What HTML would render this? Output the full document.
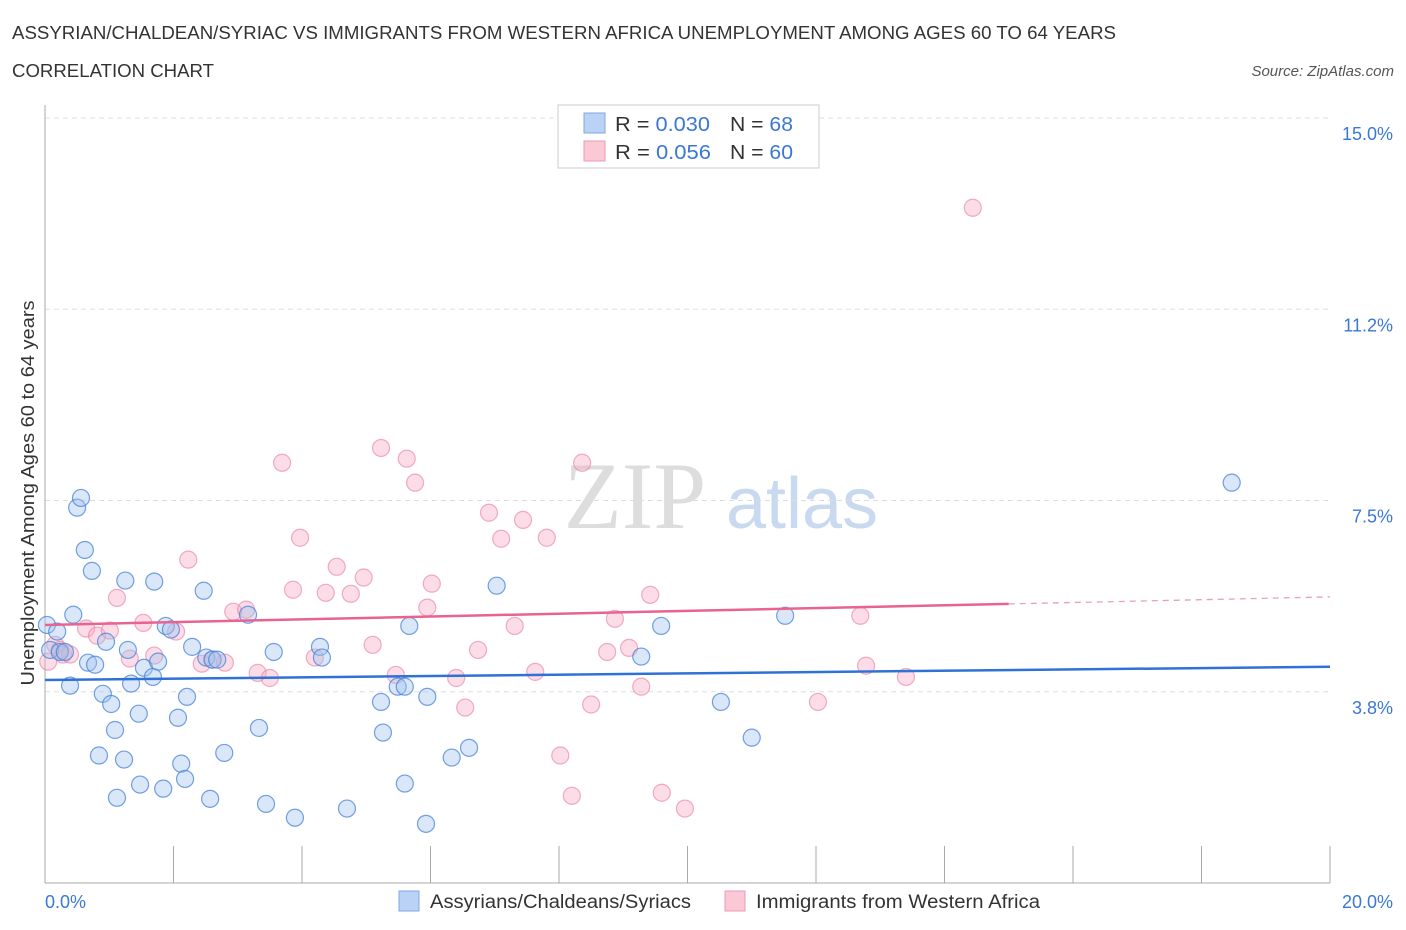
<!DOCTYPE html>
<html><head><meta charset="utf-8"><style>
body{margin:0;background:#fff;font-family:"Liberation Sans",sans-serif;}
#wrap{position:relative;width:1406px;height:930px;overflow:hidden;}
</style></head><body>
<div id="wrap">
<svg id="chart" width="1406" height="930">
<text x="12" y="39" font-size="18" fill="#333" textLength="1104" lengthAdjust="spacingAndGlyphs">ASSYRIAN/CHALDEAN/SYRIAC VS IMMIGRANTS FROM WESTERN AFRICA UNEMPLOYMENT AMONG AGES 60 TO 64 YEARS</text>
<text x="12" y="77" font-size="18" fill="#333" textLength="202" lengthAdjust="spacingAndGlyphs">CORRELATION CHART</text>
<text x="1394" y="76" font-size="15" fill="#555" font-style="italic" text-anchor="end">Source: ZipAtlas.com</text>
<text x="635" y="528" font-size="95" fill="#ddd" font-family="Liberation Serif,serif" text-anchor="middle">ZIP</text>
<text x="802" y="528" font-size="72" fill="#c8d9f0" text-anchor="middle">atlas</text>
<text transform="translate(34,493) rotate(-90)" font-size="18" fill="#333" text-anchor="middle" textLength="385" lengthAdjust="spacingAndGlyphs">Unemployment Among Ages 60 to 64 years</text>
<g id="grid"></g><g id="marks"></g>
<g>
<rect x="558" y="105" width="261" height="63" fill="#fff" stroke="#ccc"/>
<rect x="584" y="113" width="21" height="20" fill="#b9d2f5" stroke="#7fa8e0"/>
<rect x="584" y="141" width="21" height="20" fill="#fbc8d6" stroke="#ee9ab5"/>
<text x="615" y="131" font-size="20" fill="#333" textLength="95" lengthAdjust="spacingAndGlyphs">R = <tspan fill="#3a78d4">0.030</tspan></text>
<text x="730" y="131" font-size="20" fill="#333" textLength="63" lengthAdjust="spacingAndGlyphs">N = <tspan fill="#3a78d4">68</tspan></text>
<text x="615" y="159" font-size="20" fill="#333" textLength="96" lengthAdjust="spacingAndGlyphs">R = <tspan fill="#3a78d4">0.056</tspan></text>
<text x="730" y="159" font-size="20" fill="#333" textLength="63" lengthAdjust="spacingAndGlyphs">N = <tspan fill="#3a78d4">60</tspan></text>
</g>
<rect x="399" y="891" width="20" height="20" fill="#b9d2f5" stroke="#7fa8e0"/>
<text x="430" y="908" font-size="19" fill="#333" textLength="261" lengthAdjust="spacingAndGlyphs">Assyrians/Chaldeans/Syriacs</text>
<rect x="725" y="891" width="20" height="20" fill="#fbc8d6" stroke="#ee9ab5"/>
<text x="756" y="908" font-size="19" fill="#333" textLength="284" lengthAdjust="spacingAndGlyphs">Immigrants from Western Africa</text>
</svg>
</div>
<script>
const yTickValues=[3.75,7.5,11.25,15];
const yTickLabels=["3.8%","7.5%","11.2%","15.0%"];
const xTickValues=[0,2,4,6,8,10,12,14,16,18,20];
const xEdgeLabels=["0.0%","20.0%"];
const blueX=[0.03,0.08,0.19,0.23,0.31,0.39,0.44,0.50,0.56,0.62,0.67,0.73,0.78,0.90,0.95,1.03,1.09,1.12,1.23,1.25,0.84,1.29,1.34,1.46,1.48,1.54,1.68,1.70,1.76,1.84,1.88,1.96,2.07,2.12,2.18,2.21,2.29,2.47,2.51,2.57,2.61,2.68,2.79,3.16,3.33,3.44,3.56,3.89,4.28,4.31,4.70,5.23,5.26,5.49,5.60,5.60,5.67,5.93,5.95,6.33,6.60,7.03,9.28,9.59,10.52,11.00,11.52,18.47];
const blueY=[5.06,4.57,4.93,4.53,4.53,3.87,5.26,7.36,7.55,6.53,4.32,6.12,4.28,3.71,4.73,3.51,3.00,1.67,2.42,5.93,2.50,4.57,3.91,3.32,1.93,4.22,4.04,5.91,4.34,1.85,5.04,4.97,3.24,2.34,2.04,3.65,4.63,5.73,4.42,1.65,4.38,4.38,2.55,5.26,3.04,1.55,4.53,1.28,4.63,4.42,1.46,3.55,2.95,3.85,3.85,1.95,5.04,1.16,3.65,2.46,2.65,5.83,4.44,5.04,3.55,2.85,5.24,7.85];
const pinkX=[0.05,0.16,0.23,0.28,0.39,0.64,0.81,1.01,1.12,1.32,1.53,1.70,2.04,2.23,2.44,2.60,2.80,2.93,3.13,3.31,3.50,3.69,3.86,3.97,4.20,4.37,4.54,4.76,4.96,5.10,5.23,5.46,5.63,5.76,5.95,6.02,6.40,6.54,6.74,6.91,7.10,7.31,7.44,7.63,7.81,8.02,8.20,8.36,8.50,8.75,8.87,9.09,9.28,9.42,9.60,9.96,12.03,12.69,12.78,13.40,14.44];
const pinkY=[4.34,4.67,4.57,4.48,4.48,4.99,4.85,4.95,5.59,4.40,5.10,4.46,4.93,6.34,4.30,4.38,4.32,5.32,5.36,4.12,4.02,8.24,5.75,6.77,4.42,5.69,6.20,5.67,5.99,4.67,8.53,4.08,8.32,7.85,5.40,5.87,4.02,3.44,4.57,7.26,6.75,5.04,7.12,4.14,6.77,2.50,1.71,8.24,3.50,4.53,5.18,4.61,3.85,5.65,1.77,1.46,3.55,5.24,4.26,4.04,13.24];
const blueTrend=[3.98,4.24];
const pinkTrend=[5.06,5.61];
const pinkSolidEnd=15;

const X0=45,X1=1330,YB=883,YSC=51.0;
const sx=v=>X0+(v/20)*(X1-X0);
const sy=v=>YB-v*YSC;
const NS="http://www.w3.org/2000/svg";
const grid=document.getElementById('grid'),marks=document.getElementById('marks');
function mk(tag,attrs,parent){const e=document.createElementNS(NS,tag);for(const k in attrs)e.setAttribute(k,attrs[k]);parent.appendChild(e);return e;}

yTickValues.forEach((v,i)=>{
  const l=mk('line',{x1:X0,x2:X1,y1:sy(v),y2:sy(v),stroke:'#ddd','stroke-dasharray':'5,4'},grid);
  
  
  const t=mk('text',{x:1393,y:sy(v)+22,'font-size':18,fill:'#3a78d4','text-anchor':'end'},grid);
  t.textContent=yTickLabels[i];
  
  
});
const ax=mk('line',{x1:X0,x2:X0,y1:105,y2:YB,stroke:'#aaa'},grid);


const bx=mk('line',{x1:X0,x2:X1,y1:YB,y2:YB,stroke:'#aaa'},grid);


xTickValues.forEach(v=>{
  const t=mk('line',{x1:sx(v),x2:sx(v),y1:YB,y2:YB-37,stroke:'#aaa'},grid);
  
  
});
const xl0=mk('text',{x:45,y:908,'font-size':18,fill:'#3a78d4'},grid);xl0.textContent=xEdgeLabels[0];


const xl1=mk('text',{x:1393,y:908,'font-size':18,fill:'#3a78d4','text-anchor':'end'},grid);xl1.textContent=xEdgeLabels[1];



pinkX.forEach((x,i)=>{
  const c=mk('circle',{cx:sx(x),cy:sy(pinkY[i]),r:8.5,fill:'rgba(247,170,195,0.4)',stroke:'rgba(232,130,165,0.65)','stroke-width':1.2},marks);
  
  
});
blueX.forEach((x,i)=>{
  const c=mk('circle',{cx:sx(x),cy:sy(blueY[i]),r:8.5,fill:'rgba(160,195,240,0.4)',stroke:'rgba(70,130,215,0.75)','stroke-width':1.2},marks);
  
  
});
const tb=mk('line',{x1:sx(0),y1:sy(blueTrend[0]),x2:sx(20),y2:sy(blueTrend[1]),stroke:'#2f72d6','stroke-width':2.5},marks);


const pm=pinkTrend[0]+(pinkTrend[1]-pinkTrend[0])*pinkSolidEnd/20;
const tp=mk('line',{x1:sx(0),y1:sy(pinkTrend[0]),x2:sx(pinkSolidEnd),y2:sy(pm),stroke:'#e8638f','stroke-width':2.5},marks);


const td=mk('line',{x1:sx(pinkSolidEnd),y1:sy(pm),x2:sx(20),y2:sy(pinkTrend[1]),stroke:'#e8a0b8','stroke-width':1.3,'stroke-dasharray':'6,5'},marks);


</script>
</body></html>
